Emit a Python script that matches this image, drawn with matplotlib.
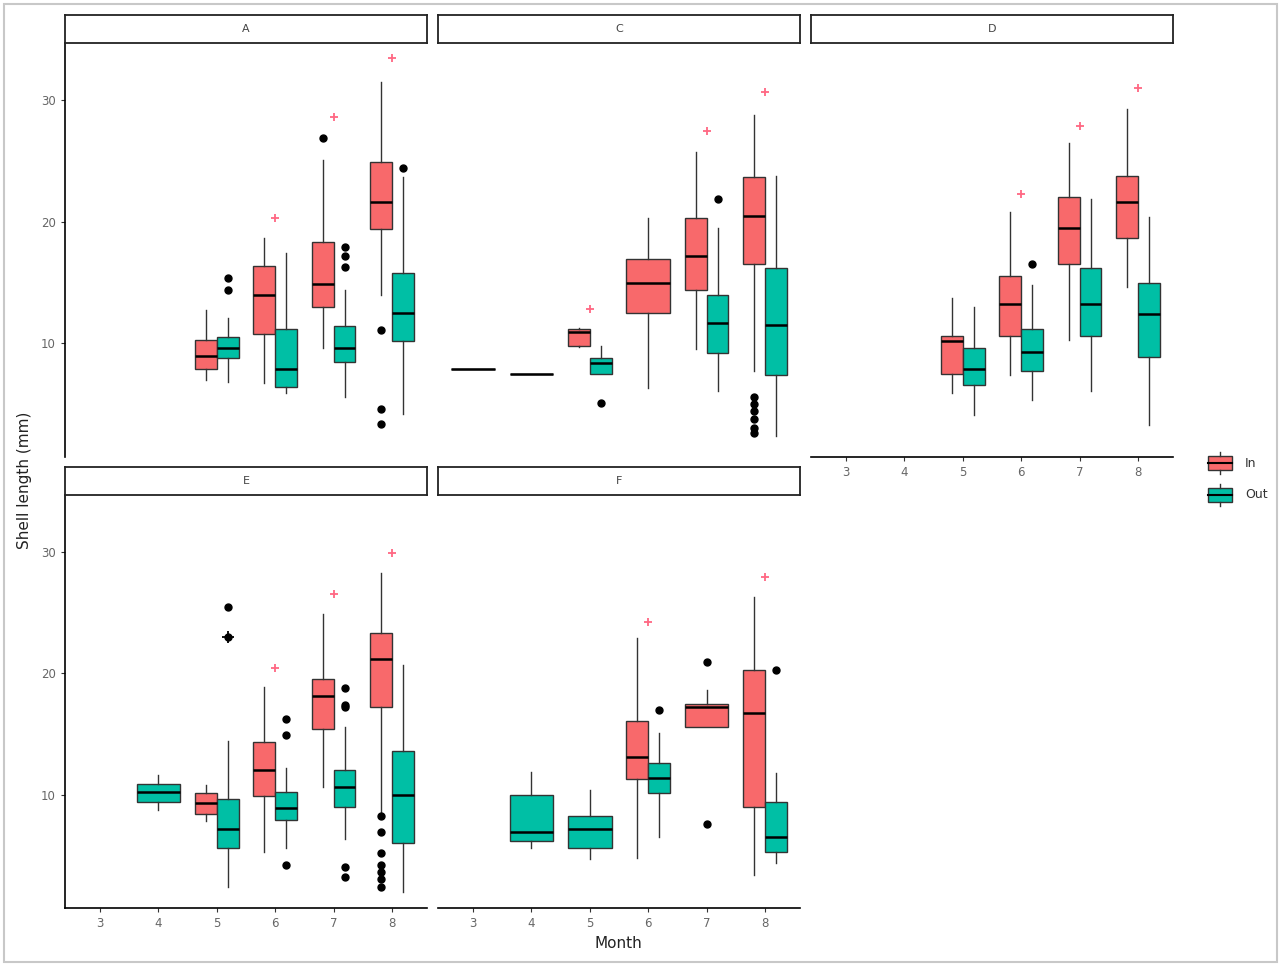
import matplotlib
matplotlib.use("Agg")
import matplotlib.pyplot as plt
from matplotlib.patches import Rectangle

# ---------------- data ----------------
MONTHS = [3, 4, 5, 6, 7, 8]
PANELS = ["A", "C", "D", "E", "F"]
GROUPS = ["In", "Out"]
Y_TICKS = [10, 20, 30]

# rows: (month, whisker_low, q1, median, q3, whisker_high)
A_IN = [(5, 6.95, 7.86, 8.93, 10.25, 12.7), (6, 6.7, 10.8, 14.0, 16.4, 18.7),
        (7, 9.6, 13.0, 14.9, 18.3, 25.1), (8, 13.95, 19.4, 21.6, 24.9, 31.5)]
A_OUT = [(5, 6.79, 8.77, 9.59, 10.5, 12.1), (6, 5.9, 6.4, 7.9, 11.2, 17.4),
         (7, 5.6, 8.5, 9.6, 11.4, 14.4), (8, 4.2, 10.2, 12.5, 15.8, 23.7)]
A_IN_FLIERS = {7: [26.9], 8: [11.1, 4.6, 3.4]}
A_OUT_FLIERS = {5: [15.35, 14.36], 7: [17.9, 17.2, 16.3], 8: [24.4]}
A_MARKS = [(6, 20.3), (7, 28.6), (8, 33.5)]

C_IN = [(3, 7.86, 7.86, 7.86, 7.86, 7.86), (4, 7.45, 7.45, 7.45, 7.45, 7.45),
        (5, 9.7, 9.8, 10.9, 11.2, 11.3), (6, 6.3, 12.5, 15.0, 16.9, 20.3),
        (7, 9.5, 14.4, 17.2, 20.3, 25.7), (8, 7.7, 16.5, 20.45, 23.7, 28.8)]
C_OUT = [(5, 7.5, 7.5, 8.35, 8.77, 9.8), (7, 6.05, 9.2, 11.7, 14.0, 19.5),
         (8, 2.4, 7.4, 11.5, 16.2, 23.8)]
C_IN_FLIERS = {8: [5.56, 5.0, 4.4, 3.8, 3.0, 2.6]}
C_OUT_FLIERS = {5: [5.06], 7: [21.85]}
C_MARKS = [(5, 12.8), (7, 27.5), (8, 30.7)]

D_IN = [(5, 5.9, 7.5, 10.2, 10.6, 13.7), (6, 7.4, 10.6, 13.2, 15.5, 20.8),
        (7, 10.25, 16.5, 19.5, 22.0, 26.5), (8, 14.6, 18.7, 21.6, 23.8, 29.3)]
D_OUT = [(5, 4.1, 6.6, 7.9, 9.6, 13.0), (6, 5.3, 7.7, 9.26, 11.15, 14.8),
         (7, 6.1, 10.6, 13.2, 16.2, 21.85), (8, 3.25, 8.9, 12.4, 15.0, 20.4)]
D_IN_FLIERS = {}
D_OUT_FLIERS = {6: [16.5]}
D_MARKS = [(6, 22.3), (7, 27.9), (8, 31.0)]

E_IN = [(5, 7.8, 8.44, 9.34, 10.1, 10.8), (6, 5.3, 9.9, 12.05, 14.3, 18.9),
        (7, 10.6, 15.4, 18.1, 19.55, 24.9), (8, 8.6, 17.2, 21.2, 23.3, 28.3)]
E_OUT = [(4, 8.77, 9.42, 10.25, 10.9, 11.65), (5, 2.35, 5.6, 7.2, 9.6, 14.4),
         (6, 5.6, 7.9, 8.9, 10.25, 12.2), (7, 6.3, 9.0, 10.65, 12.05, 15.6),
         (8, 2.0, 6.0, 10.0, 13.6, 20.7)]
E_IN_FLIERS = {8: [8.2, 6.9, 5.2, 4.2, 3.6, 3.0, 2.4]}
E_OUT_FLIERS = {5: [25.5, 23.0], 6: [16.2, 14.9, 4.2], 7: [18.8, 17.4, 17.2, 4.07, 3.17]}
E_MARKS = [(6, 20.45), (7, 26.5), (8, 29.9)]
E_BLACK_PLUS = [(5.1875, 23.0)]

F_IN = [(6, 4.8, 11.3, 13.1, 16.1, 22.9), (7, 15.6, 15.6, 17.2, 17.5, 18.6),
        (8, 3.4, 9.0, 16.75, 20.3, 26.3)]
F_OUT = [(4, 5.6, 6.2, 6.95, 10.0, 11.9), (5, 4.65, 5.6, 7.2, 8.27, 10.4),
         (6, 6.5, 10.1, 11.4, 12.6, 15.1), (8, 4.4, 5.3, 6.5, 9.4, 11.8)]
F_IN_FLIERS = {7: [20.9, 7.6]}
F_OUT_FLIERS = {6: [17.0], 8: [20.3]}
F_MARKS = [(6, 24.2), (8, 27.9)]

COL_IN = "#F8696B"
COL_OUT = "#00BFA5"

# ---------------- layout ----------------
W, H = 1281, 966
fig = plt.figure(figsize=(W / 100, H / 100), dpi=100)
fig.patch.set_facecolor("white")


def rect(l, t, w, h):
    return [l / W, 1 - (t + h) / H, w / W, h / H]


panel_px = {
    "A": (65, 43, 362, 414), "C": (438, 43, 362, 414), "D": (811, 43, 362, 414),
    "E": (65, 495, 362, 413), "F": (438, 495, 362, 413),
}
panel_data = {
    "A": (A_IN, A_OUT, A_IN_FLIERS, A_OUT_FLIERS, A_MARKS),
    "C": (C_IN, C_OUT, C_IN_FLIERS, C_OUT_FLIERS, C_MARKS),
    "D": (D_IN, D_OUT, D_IN_FLIERS, D_OUT_FLIERS, D_MARKS),
    "E": (E_IN, E_OUT, E_IN_FLIERS, E_OUT_FLIERS, E_MARKS),
    "F": (F_IN, F_OUT, F_IN_FLIERS, F_OUT_FLIERS, F_MARKS),
}
show_y = {"A", "E"}
show_x = {"D", "E", "F"}


def draw_group(ax, rows, fliers, other_months, offset, color):
    for (m, wlo, q1, med, q3, whi) in rows:
        paired = m in other_months
        pos = m + offset if paired else m
        width = 0.375 if paired else 0.75
        st = dict(med=med, q1=q1, q3=q3, whislo=wlo, whishi=whi,
                  fliers=fliers.get(m, []))
        ax.bxp([st], positions=[pos], widths=[width], patch_artist=True,
               showcaps=False, manage_ticks=False,
               boxprops=dict(facecolor=color, edgecolor="#333333", linewidth=1.0),
               medianprops=dict(color="black", linewidth=1.8),
               whiskerprops=dict(color="#333333", linewidth=1.0),
               flierprops=dict(marker="o", markerfacecolor="black",
                               markeredgecolor="black", markersize=5))


for p in PANELS:
    l, t, w, h = panel_px[p]
    ax = fig.add_axes(rect(l, t, w, h))
    rin, rout, fin, fout, marks = panel_data[p]
    in_m = {r[0] for r in rin}
    out_m = {r[0] for r in rout}
    draw_group(ax, rin, fin, out_m, -0.1875, COL_IN)
    draw_group(ax, rout, fout, in_m, 0.1875, COL_OUT)
    ax.plot([mk[0] for mk in marks], [mk[1] for mk in marks], "+",
            color="#FF4D6D", ms=6, mew=1.3, alpha=0.85)
    if p == "E":
        ax.plot([b[0] for b in E_BLACK_PLUS], [b[1] for b in E_BLACK_PLUS], "+",
                color="black", ms=9, mew=1.3)
    ax.set_xlim(2.4, 8.6)
    ax.set_ylim(0.65, 34.7)
    for s in ax.spines.values():
        s.set_visible(False)
    ax.tick_params(colors="#333333", labelcolor="#666666", labelsize=8.5,
                   length=3, width=0.8)
    if p in show_y:
        ax.spines["left"].set_visible(True)
        ax.spines["left"].set_linewidth(1.2)
        ax.set_yticks(Y_TICKS)
        ax.set_yticklabels([str(v) for v in Y_TICKS])
    else:
        ax.set_yticks([])
    if p in show_x:
        ax.spines["bottom"].set_visible(True)
        ax.spines["bottom"].set_linewidth(1.2)
        ax.set_xticks(MONTHS)
        ax.set_xticklabels([str(m) for m in MONTHS])
    else:
        ax.set_xticks([])
    # strip
    st_top = t - 28
    sax = fig.add_axes(rect(l, st_top, w, 28))
    sax.set_xticks([])
    sax.set_yticks([])
    for s in sax.spines.values():
        s.set_linewidth(1.3)
        s.set_color("#222222")
    sax.text(0.5, 0.5, p, ha="center", va="center", fontsize=8, color="#444444",
             transform=sax.transAxes)

# axis titles
fig.text(25 / W, 1 - 480 / H, "Shell length (mm)", rotation=90, ha="center",
         va="center", fontsize=11, color="#222222")
fig.text(618 / W, 1 - 943 / H, "Month", ha="center", va="center", fontsize=11,
         color="#222222")

# legend
lax = fig.add_axes(rect(1200, 448, 40, 62))
lax.set_xlim(0, 40)
lax.set_ylim(62, 0)
lax.axis("off")
for (y0, col) in [(8, COL_IN), (40, COL_OUT)]:
    lax.plot([20, 20], [y0 - 4, y0], color="#333333", lw=1)
    lax.plot([20, 20], [y0 + 14, y0 + 18], color="#333333", lw=1)
    lax.add_patch(Rectangle((8, y0), 24, 14, facecolor=col, edgecolor="#333333", lw=1))
    lax.plot([8, 32], [y0 + 7, y0 + 7], color="black", lw=1.5)
for (ty, lab) in [(463, GROUPS[0]), (495, GROUPS[1])]:
    fig.text(1245 / W, 1 - ty / H, lab, ha="left", va="center", fontsize=9,
             color="#333333")

# outer border
fig.add_artist(Rectangle((4 / W, 4 / H), 1 - 8 / W, 1 - 8 / H, transform=fig.transFigure,
                         fill=False, edgecolor="#c8c8c8", lw=1.5))

fig.savefig("out.png", dpi=100, facecolor="white")
